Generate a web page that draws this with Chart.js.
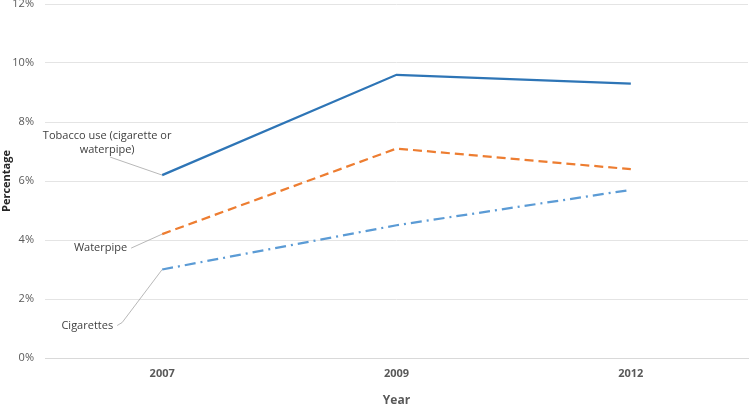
<!DOCTYPE html>
<html>
<head>
<meta charset="utf-8">
<script src="https://cdn.jsdelivr.net/npm/chart.js@4/dist/chart.umd.min.js"></script>
<style>
  html, body { margin: 0; padding: 0; background: #fff; }
  #wrap { width: 749px; height: 408px; }
</style>
</head>
<body>
<div id="wrap"><canvas id="chart"></canvas></div>
<script>
// --- data ---
const years = ['2007', '2009', '2012'];
const tobaccoUse = [6.2, 9.6, 9.3];
const waterpipe = [4.2, 7.1, 6.4];
const cigarettes = [3.0, 4.5, 5.7];
const yTicks = [0, 2, 4, 6, 8, 10, 12];

const font = "'Open Sans', 'Liberation Sans', sans-serif";
const grey = '#595959';

// labels with leader lines next to the first point of each series
const callouts = [
  { ds: 0, lines: ['Tobacco use (cigarette or', 'waterpipe)'], tx: -55, ty: -39, path: [[-52, -18]] },
  { ds: 1, lines: ['Waterpipe'], tx: -35, ty: 14, path: [[-31, 14]] },
  { ds: 2, lines: ['Cigarettes'], tx: -49, ty: 56, path: [[-40, 53], [-45, 56]] }
];

const calloutPlugin = {
  id: 'callouts',
  afterDatasetsDraw(chart) {
    const ctx = chart.ctx;
    ctx.save();
    ctx.font = '11px ' + font;
    ctx.fillStyle = '#404040';
    ctx.textBaseline = 'middle';
    callouts.forEach(c => {
      const pt = chart.getDatasetMeta(c.ds).data[0];
      ctx.strokeStyle = '#a6a6a6';
      ctx.lineWidth = 0.8;
      ctx.beginPath();
      ctx.moveTo(pt.x, pt.y);
      c.path.forEach(p => ctx.lineTo(pt.x + p[0], pt.y + p[1]));
      ctx.stroke();
      if (c.lines.length > 1) {
        ctx.textAlign = 'center';
        c.lines.forEach((l, i) => ctx.fillText(l, pt.x + c.tx, pt.y + c.ty + i * 14));
      } else {
        ctx.textAlign = 'right';
        ctx.fillText(c.lines[0], pt.x + c.tx, pt.y + c.ty);
      }
    });
    ctx.restore();
  }
};

new Chart(document.getElementById('chart'), {
  type: 'line',
  data: {
    labels: years,
    datasets: [
      {
        label: 'Tobacco use (cigarette or waterpipe)',
        data: tobaccoUse,
        borderColor: '#2e75b6',
        borderWidth: 2.25,
        pointRadius: 0,
        tension: 0
      },
      {
        label: 'Waterpipe',
        data: waterpipe,
        borderColor: '#ed7d31',
        borderWidth: 2.25,
        borderDash: [9, 5],
        pointRadius: 0,
        tension: 0
      },
      {
        label: 'Cigarettes',
        data: cigarettes,
        borderColor: '#5b9bd5',
        borderWidth: 2.25,
        borderDash: [11, 5, 2, 5],
        pointRadius: 0,
        tension: 0
      }
    ]
  },
  options: {
    responsive: true,
    maintainAspectRatio: false,
    animation: false,
    layout: { padding: { top: 4, right: 1, left: 0, bottom: 0 } },
    plugins: { legend: { display: false }, tooltip: { enabled: false } },
    scales: {
      x: {
        offset: true,
        grid: { display: false, drawTicks: false },
        border: { color: '#d9d9d9', width: 1 },
        ticks: { color: grey, padding: 9, font: { family: font, size: 11, weight: 'bold' } },
        title: { display: true, text: 'Year', color: grey, padding: { top: 13, bottom: 0 },
                 font: { family: font, size: 12, weight: 'bold' } },
        afterFit: s => { s.height = 50; }
      },
      y: {
        min: 0,
        max: 12,
        afterBuildTicks: s => { s.ticks = yTicks.map(v => ({ value: v })); },
        grid: { color: '#e4e4e4', drawTicks: false },
        border: { display: false },
        ticks: { color: grey, padding: 11, callback: v => v + '%', font: { family: font, size: 11 } },
        title: { display: true, text: 'Percentage', color: '#262626', padding: 0,
                 font: { family: font, size: 11, weight: 'bold' } },
        afterFit: s => { s.width = 45; s.paddingTop = 0; s.paddingBottom = 0; }
      }
    }
  },
  plugins: [calloutPlugin]
});
</script>
</body>
</html>
